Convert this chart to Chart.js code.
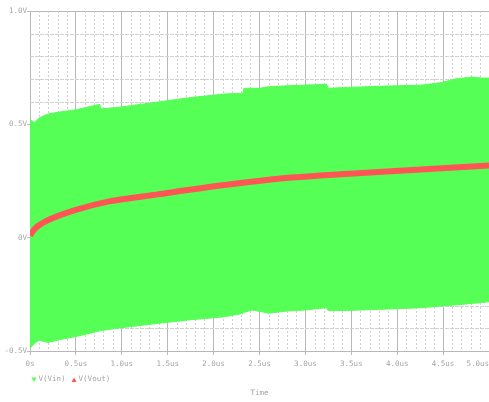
<!DOCTYPE html>
<html>
<head>
<meta charset="utf-8">
<script src="https://cdn.jsdelivr.net/npm/chart.js@4/dist/chart.umd.min.js"></script>
<style>
  html, body { margin: 0; padding: 0; background: #ffffff; }
  #wrap { width: 489px; height: 402px; }
</style>
</head>
<body>
<div id="wrap"><canvas id="c" width="489" height="402"></canvas></div>
<script>
// Transient run, 0 .. 5 us. V(Vin) is a fast oscillation, drawn as the band between its peaks.
const envTime = [0, 0.05, 0.1, 0.15, 0.2, 0.3, 0.5, 0.68, 0.76, 0.77, 1.0, 1.4, 1.75, 2.12, 2.32, 2.33,
                 2.42, 2.5, 2.6, 2.8, 3.0, 3.23, 3.25, 3.46, 3.9, 4.27, 4.49, 4.63, 4.82, 4.92, 5.0];
const vinHigh = [0.522, 0.507, 0.528, 0.538, 0.546, 0.553, 0.564, 0.581, 0.588, 0.568, 0.577, 0.599, 0.618, 0.634, 0.637, 0.659,
                 0.659, 0.659, 0.666, 0.670, 0.673, 0.677, 0.659, 0.663, 0.669, 0.673, 0.685, 0.700, 0.709, 0.704, 0.704];
const vinLow  = [-0.488, -0.466, -0.452, -0.458, -0.462, -0.452, -0.436, -0.419, -0.411, -0.410, -0.397, -0.378, -0.362, -0.349, -0.334, -0.330,
                 -0.319, -0.325, -0.333, -0.324, -0.319, -0.309, -0.322, -0.321, -0.315, -0.309, -0.301, -0.297, -0.290, -0.286, -0.283];

// V(Vout): slowly charging output
const voutTime = [0, 0.05, 0.1, 0.16, 0.3, 0.49, 0.85, 1.39, 2.12, 2.85, 3.57, 4.3, 5.0];
const vout     = [0.01, 0.038, 0.055, 0.07, 0.095, 0.122, 0.159, 0.191, 0.232, 0.265, 0.284, 0.302, 0.318];

const xTicks = [0, 0.5, 1.0, 1.5, 2.0, 2.5, 3.0, 3.5, 4.0, 4.5, 5.0];
const xTickLabels = ['0s', '0.5us', '1.0us', '1.5us', '2.0us', '2.5us', '3.0us', '3.5us', '4.0us', '4.5us', '5.0us'];
const yTicks = [-0.5, 0, 0.5, 1.0];
const yTickLabels = ['-0.5V', '0V', '0.5V', '1.0V'];
const seriesNames = ['V(Vin)', 'V(Vout)'];
const xTitle = 'Time';

const GREEN = '#55ff55';
const RED = '#ff5555';
const TEXT = '#a4a4a4';
const MAJOR = '#b8b8b8';
const MINOR = '#d0d0d0';
const FONT = '7.5px "DejaVu Sans Mono", monospace';

const pts = (xs, ys) => xs.map((x, i) => ({ x: x, y: ys[i] }));

// dashed minor grid every 0.1 us / 0.1 V
const minorGrid = {
  id: 'minorGrid',
  beforeDatasetsDraw(chart) {
    const { ctx, chartArea: a, scales: { x, y } } = chart;
    ctx.save();
    ctx.strokeStyle = MINOR;
    ctx.lineWidth = 1;
    ctx.setLineDash([2, 2]);
    ctx.beginPath();
    for (let k = 1; k < 50; k++) {
      if (k % 5 === 0) continue;
      const px = Math.round(x.getPixelForValue(k / 10)) + 0.5;
      ctx.moveTo(px, a.top); ctx.lineTo(px, a.bottom);
    }
    ctx.stroke();
    ctx.setLineDash([4, 1]);
    ctx.beginPath();
    for (let k = -4; k < 10; k++) {
      if (k % 5 === 0) continue;
      const py = Math.round(y.getPixelForValue(k / 10)) + 0.5;
      ctx.moveTo(a.left, py); ctx.lineTo(a.right, py);
    }
    ctx.stroke();
    ctx.restore();
  }
};

// x tick labels, legend and axis title
const labels = {
  id: 'labels',
  afterDraw(chart) {
    const { ctx, chartArea: a, scales: { x } } = chart;
    ctx.save();
    ctx.font = FONT;
    ctx.fillStyle = TEXT;
    ctx.textBaseline = 'middle';
    xTicks.forEach((v, i) => {
      const px = x.getPixelForValue(v);
      ctx.textAlign = i === xTicks.length - 1 ? 'right' : 'center';
      ctx.fillText(xTickLabels[i], px, a.bottom + 13.5);
    });

    // legend
    const ly = a.bottom + 28.5;
    ctx.textAlign = 'left';
    let lx = a.left + 1.5;
    const marks = [GREEN, RED];
    seriesNames.forEach((name, i) => {
      ctx.fillStyle = marks[i];
      ctx.beginPath();
      if (i === 0) {
        ctx.moveTo(lx, ly - 2); ctx.lineTo(lx + 5, ly - 2); ctx.lineTo(lx + 2.5, ly + 2.5);
      } else {
        ctx.moveTo(lx, ly + 2.5); ctx.lineTo(lx + 5, ly + 2.5); ctx.lineTo(lx + 2.5, ly - 2);
      }
      ctx.closePath();
      ctx.fill();
      ctx.fillStyle = TEXT;
      ctx.fillText(name, lx + 7, ly);
      lx += 7 + ctx.measureText(name).width + 6;
    });

    ctx.textAlign = 'center';
    ctx.fillText(xTitle, (a.left + a.right) / 2, a.bottom + 42.5);
    ctx.restore();
  }
};

new Chart(document.getElementById('c'), {
  type: 'line',
  data: {
    datasets: [
      { label: seriesNames[0], data: pts(envTime, vinHigh), borderColor: GREEN, backgroundColor: GREEN,
        borderWidth: 1, pointRadius: 0, fill: '+1', order: 2 },
      { label: seriesNames[0] + ' min', data: pts(envTime, vinLow), borderColor: GREEN, backgroundColor: GREEN,
        borderWidth: 1, pointRadius: 0, fill: false, order: 2 },
      { label: seriesNames[1], data: pts(voutTime, vout), borderColor: RED, backgroundColor: RED,
        borderWidth: 6, pointRadius: 0, fill: false, order: 1, cubicInterpolationMode: 'monotone' }
    ]
  },
  options: {
    responsive: false,
    animation: false,
    devicePixelRatio: 1,
    layout: { padding: { top: 11, right: 0, left: 0, bottom: 0 } },
    elements: { line: { tension: 0 } },
    plugins: { legend: { display: false }, tooltip: { enabled: false } },
    scales: {
      x: {
        type: 'linear', min: 0, max: 5,
        afterBuildTicks: s => { s.ticks = xTicks.map(v => ({ value: v })); },
        ticks: { display: false },
        grid: { color: MAJOR, lineWidth: 1, drawTicks: true, tickLength: 4, tickColor: MAJOR },
        border: { color: MAJOR, width: 1 },
        afterFit: s => { s.height = 51; s.paddingLeft = 0; s.paddingRight = 0; }
      },
      y: {
        type: 'linear', min: -0.5, max: 1.0,
        afterBuildTicks: s => { s.ticks = yTicks.map(v => ({ value: v })); },
        ticks: {
          color: TEXT, font: { family: '"DejaVu Sans Mono", monospace', size: 7.5 }, padding: 0,
          callback: v => { const i = yTicks.indexOf(v); return i >= 0 ? yTickLabels[i] : ''; }
        },
        grid: { color: MAJOR, lineWidth: 1, drawTicks: true, tickLength: 3, tickColor: MAJOR },
        border: { color: MAJOR, width: 1 },
        afterFit: s => { s.width = 30; s.paddingTop = 0; s.paddingBottom = 0; }
      }
    }
  },
  plugins: [minorGrid, labels]
});
</script>
</body>
</html>
